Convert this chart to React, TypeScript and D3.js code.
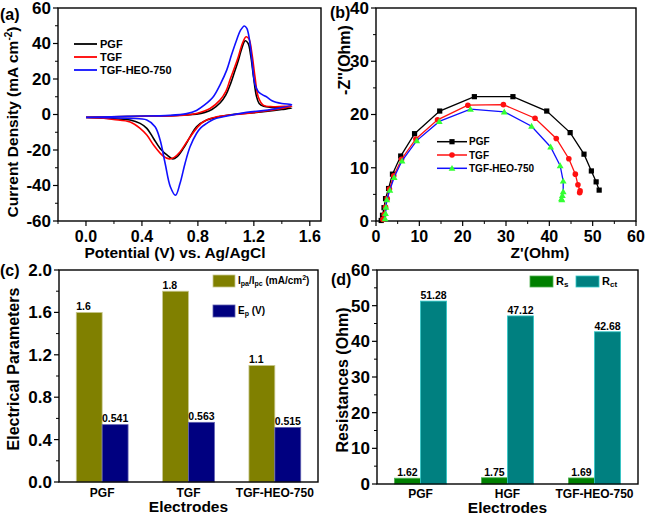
import React from 'react';
import * as d3 from 'd3';

const FONT = '"Liberation Sans", Arial, Helvetica, sans-serif';

// ---------- Panel (a): cyclic voltammetry ----------
const cvPgf: [number, number][] = [
  [0, -1.6], [0.2, -1.3], [0.4, -1.0], [0.6, -0.7], [0.7, -0.3], [0.79, 0.2], [0.85, 1.2], [0.9, 2.8],
  [0.96, 6.6], [1.0, 11], [1.03, 16.6], [1.06, 23.5], [1.09, 30.7], [1.115, 37.5], [1.138, 41.5],
  [1.158, 40.2], [1.178, 33], [1.198, 21], [1.218, 10.5], [1.238, 6.2], [1.27, 4.6], [1.33, 4.0],
  [1.4, 3.7], [1.47, 3.6],
  [1.4, 2.8], [1.3, 1.8], [1.2, 1.0], [1.1, 0.4], [1.0, -0.6], [0.92, -1.8], [0.863, -3.1],
  [0.79, -6.9], [0.744, -12.6], [0.696, -19.1], [0.652, -23.7], [0.62, -25], [0.585, -23.2],
  [0.53, -19.1], [0.483, -13.5], [0.435, -7.8], [0.387, -5.0], [0.316, -3.1], [0.197, -2.4], [0.1, -2.0], [0, -1.6]
];
const cvTgf: [number, number][] = [
  [0, -1.6], [0.3, -1.1], [0.6, -0.8], [0.72, -0.3], [0.79, 0.6], [0.887, 3.4], [0.958, 8.1], [1.0, 13],
  [1.029, 19.4], [1.06, 26], [1.089, 32.6], [1.118, 40], [1.145, 43.8], [1.165, 42.6], [1.186, 34.5],
  [1.208, 21.3], [1.231, 10], [1.267, 5.3], [1.338, 4.4], [1.47, 4.6],
  [1.338, 2.5], [1.148, 0.6], [0.934, -1.3], [0.839, -4.1], [0.78, -8.8], [0.72, -15.5], [0.672, -21.1],
  [0.628, -24.3], [0.595, -25], [0.55, -23.3], [0.483, -17.2], [0.435, -11.6], [0.387, -7.8],
  [0.316, -4.2], [0.197, -2.8], [0.1, -2.0], [0, -1.6]
];
const cvHeo: [number, number][] = [
  [0, -1.6], [0.3, -1.0], [0.6, -0.5], [0.72, 0.5], [0.79, 2.3], [0.85, 5.5], [0.91, 10], [0.96, 17],
  [1.006, 25], [1.04, 33.5], [1.077, 42], [1.105, 47.5], [1.132, 49.9], [1.15, 48.5], [1.168, 42.5],
  [1.186, 30.7], [1.208, 17], [1.232, 12.8], [1.26, 11.2], [1.29, 10.0], [1.33, 7.8], [1.4, 6.2], [1.47, 5.5],
  [1.3, 2.5], [1.148, 1.2], [0.981, -1.3], [0.91, -2.8], [0.863, -5], [0.82, -7.5], [0.79, -10.7],
  [0.744, -18.2], [0.708, -27.6], [0.672, -38.9], [0.64, -45.5], [0.603, -40.7], [0.566, -27.6],
  [0.53, -14.4], [0.494, -6.9], [0.435, -3.1], [0.316, -2.2], [0.15, -1.8], [0, -1.6]
];
const cvTicksX = [0, 0.4, 0.8, 1.2, 1.6];
const cvMinorX = [-0.2, 0.2, 0.6, 1.0, 1.4];
const cvTicksY = [-60, -40, -20, 0, 20, 40, 60];
const cvMinorY = [-50, -30, -10, 10, 30, 50];
const cvSeries = ['PGF', 'TGF', 'TGF-HEO-750'];

// ---------- Panel (b): Nyquist ----------
const eisPgf: [number, number][] = [
  [1.2, 0.1], [1.5, 1.07], [1.85, 2.5], [2.2, 4.2], [2.9, 6.1], [3.8, 8.8], [5.7, 12.2], [8.9, 16.4],
  [14.7, 20.65], [22.7, 23.35], [31.6, 23.35], [39.4, 20.65], [44.8, 16.6], [48.0, 12.55], [49.7, 9.4],
  [50.8, 7.35], [51.5, 5.8]
];
const eisTgf: [number, number][] = [
  [1.6, 0.3], [1.9, 1.2], [2.2, 2.6], [2.6, 4.2], [3.1, 6.0], [4.1, 8.5], [5.9, 11.6], [9.2, 15.4],
  [14.2, 19.0], [21.2, 21.75], [29.4, 21.85], [36.7, 19.3], [41.6, 15.5], [44.5, 11.7], [46.0, 8.8],
  [46.6, 6.8], [47.1, 5.65], [47.0, 5.3]
];
const eisHeo: [number, number][] = [
  [2.1, 0.45], [2.2, 1.4], [2.3, 2.6], [2.5, 4.0], [3.2, 5.8], [4.2, 8.2], [6.0, 11.3], [9.4, 15.1],
  [14.6, 18.7], [21.8, 21.0], [29.6, 20.5], [35.9, 17.8], [40.3, 13.9], [42.5, 10.4], [43.2, 7.5],
  [43.2, 5.5], [43.0, 4.8], [42.8, 4.2], [42.9, 4.0]
];
const eisTicksX = [0, 10, 20, 30, 40, 50, 60];
const eisMinorX = [5, 15, 25, 35, 45, 55];
const eisTicksY = [0, 10, 20, 30, 40];
const eisMinorY = [5, 15, 25, 35];

// ---------- Panel (c): electrical parameters ----------
const electrodesC = ['PGF', 'TGF', 'TGF-HEO-750'];
const ipaIpc = [1.6, 1.8, 1.1];
const epValues = [0.541, 0.563, 0.515];
const ipaLabels = ['1.6', '1.8', '1.1'];
const epLabels = ['0.541', '0.563', '0.515'];
const paramTicks = [0, 0.4, 0.8, 1.2, 1.6, 2.0];
const paramMinor = [0.2, 0.6, 1.0, 1.4, 1.8];

// ---------- Panel (d): resistances ----------
const electrodesD = ['PGF', 'HGF', 'TGF-HEO-750'];
const rsValues = [1.62, 1.75, 1.69];
const rctValues = [51.28, 47.12, 42.68];
const rsLabels = ['1.62', '1.75', '1.69'];
const rctLabels = ['51.28', '47.12', '42.68'];
const resTicks = [0, 10, 20, 30, 40, 50, 60];
const resMinor = [5, 15, 25, 35, 45, 55];

const AX = 1.4;

function Frame({ l, r, t, b }: { l: number; r: number; t: number; b: number }) {
  return <rect x={l} y={t} width={r - l} height={b - t} fill="none" stroke="#000" strokeWidth={AX} />;
}

function YTicks({ scale, x, major, minor, fmt, size }: any) {
  return (
    <g>
      {major.map((v: number) => (
        <g key={'M' + v}>
          <line x1={x - 5} x2={x} y1={scale(v)} y2={scale(v)} stroke="#000" strokeWidth={1.2} />
          <text x={x - 7} y={scale(v)} dy="0.35em" textAnchor="end" fontSize={size} fontWeight="bold" fontFamily={FONT}>{fmt(v)}</text>
        </g>
      ))}
      {minor.map((v: number) => (
        <line key={'m' + v} x1={x - 3} x2={x} y1={scale(v)} y2={scale(v)} stroke="#000" strokeWidth={1} />
      ))}
    </g>
  );
}

function XTicks({ scale, y, major, minor, fmt, size, labelY }: any) {
  return (
    <g>
      {major.map((v: number) => (
        <g key={'M' + v}>
          <line x1={scale(v)} x2={scale(v)} y1={y} y2={y + 5} stroke="#000" strokeWidth={1.2} />
          <text x={scale(v)} y={labelY} textAnchor="middle" fontSize={size} fontWeight="bold" fontFamily={FONT}>{fmt(v)}</text>
        </g>
      ))}
      {minor.map((v: number) => (
        <line key={'m' + v} x1={scale(v)} x2={scale(v)} y1={y} y2={y + 3} stroke="#000" strokeWidth={1} />
      ))}
    </g>
  );
}

function PanelA() {
  const L = 58, R = 321, T = 8, B = 221;
  const x = d3.scaleLinear().domain([-0.2, 1.68]).range([L, R]);
  const y = d3.scaleLinear().domain([-60, 60]).range([B, T]);
  const line = d3.line<[number, number]>().x(d => x(d[0])).y(d => y(d[1])).curve(d3.curveCatmullRom.alpha(0.5));
  const colors = ['#000000', '#ff0000', '#1010ff'];
  const data = [cvPgf, cvTgf, cvHeo];
  return (
    <g>
      <Frame l={L} r={R} t={T} b={B} />
      {data.map((d, i) => (
        <path key={i} d={line(d) || ''} fill="none" stroke={colors[i]} strokeWidth={1.6} strokeLinejoin="round" />
      ))}
      <YTicks scale={y} x={L} major={cvTicksY} minor={cvMinorY} fmt={(v: number) => String(v)} size={17} />
      <XTicks scale={x} y={B} major={cvTicksX} minor={cvMinorX} fmt={(v: number) => v.toFixed(1)} size={16} labelY={241.5} />
      <text x={175} y={258} textAnchor="middle" fontSize={15.5} fontWeight="bold" fontFamily={FONT}>Potential (V) vs. Ag/AgCl</text>
      <text transform="translate(18,122) rotate(-90)" textAnchor="middle" fontSize={15.5} fontWeight="bold" fontFamily={FONT}>
        Current Density (mA cm<tspan dy={-6} fontSize={10}>-2</tspan><tspan dy={6}>)</tspan>
      </text>
      {cvSeries.map((s, i) => (
        <g key={s}>
          <line x1={74} x2={97} y1={44 + i * 13} y2={44 + i * 13} stroke={colors[i]} strokeWidth={1.8} />
          <text x={100} y={44 + i * 13} dy="0.35em" fontSize={11} fontWeight="bold" fontFamily={FONT}>{s}</text>
        </g>
      ))}
      <text x={0} y={20} fontSize={16} fontWeight="bold" fontFamily={FONT}>(a)</text>
    </g>
  );
}

function Marker({ kind, cx, cy }: { kind: string; cx: number; cy: number }) {
  if (kind === 'square') return <rect x={cx - 2.6} y={cy - 2.6} width={5.2} height={5.2} fill="#000" />;
  if (kind === 'circle') return <circle cx={cx} cy={cy} r={2.8} fill="#ff1010" />;
  const s = 3.4;
  return <path d={`M${cx},${cy - s}L${cx + s},${cy + s * 0.75}L${cx - s},${cy + s * 0.75}Z`} fill="#33ff33" />;
}

function PanelB() {
  const L = 376, R = 636, T = 8, B = 221;
  const x = d3.scaleLinear().domain([0, 60]).range([L, R]);
  const y = d3.scaleLinear().domain([0, 40]).range([B, T]);
  const line = d3.line<[number, number]>().x(d => x(d[0])).y(d => y(d[1]));
  const series = [
    { name: 'PGF', data: eisPgf, color: '#000000', marker: 'square' },
    { name: 'TGF', data: eisTgf, color: '#ff1010', marker: 'circle' },
    { name: 'TGF-HEO-750', data: eisHeo, color: '#1010ff', marker: 'tri' },
  ];
  return (
    <g>
      <Frame l={L} r={R} t={T} b={B} />
      {series.map(s => (
        <g key={s.name}>
          <path d={line(s.data) || ''} fill="none" stroke={s.color} strokeWidth={1.3} />
          {s.data.map((p, j) => <Marker key={j} kind={s.marker} cx={x(p[0])} cy={y(p[1])} />)}
        </g>
      ))}
      <YTicks scale={y} x={L} major={eisTicksY} minor={eisMinorY} fmt={(v: number) => String(v)} size={17} />
      <XTicks scale={x} y={B} major={eisTicksX} minor={eisMinorX} fmt={(v: number) => String(v)} size={16} labelY={241.5} />
      <text x={540} y={258} textAnchor="middle" fontSize={15.5} fontWeight="bold" fontFamily={FONT}>Z'(Ohm)</text>
      <text transform="translate(350,60) rotate(-90)" textAnchor="middle" fontSize={16} fontWeight="bold" fontFamily={FONT}>-Z''(Ohm)</text>
      {series.map((s, i) => (
        <g key={'lg' + s.name}>
          <line x1={437} x2={467} y1={141.7 + i * 13.3} y2={141.7 + i * 13.3} stroke={s.color} strokeWidth={1.5} />
          <Marker kind={s.marker} cx={452} cy={141.7 + i * 13.3} />
          <text x={469} y={141.7 + i * 13.3} dy="0.35em" fontSize={10} fontWeight="bold" fontFamily={FONT}>{s.name}</text>
        </g>
      ))}
      <text x={330} y={18} fontSize={16} fontWeight="bold" fontFamily={FONT}>(b)</text>
    </g>
  );
}

function PanelC() {
  const L = 59, R = 318, T = 270, B = 482;
  const x = d3.scaleBand<string>().domain(electrodesC).range([L, R]);
  const y = d3.scaleLinear().domain([0, 2]).range([B, T]);
  const bw = x.bandwidth() * 0.3;
  return (
    <g>
      {electrodesC.map((c, i) => {
        const cx = (x(c) || 0) + x.bandwidth() / 2;
        return (
          <g key={c}>
            <rect x={cx - bw} y={y(ipaIpc[i])} width={bw} height={B - y(ipaIpc[i])} fill="#808000" stroke="#c8c890" strokeWidth={0.8} />
            <rect x={cx} y={y(epValues[i])} width={bw} height={B - y(epValues[i])} fill="#000080" stroke="#6060b0" strokeWidth={0.8} />
            <text x={cx - bw} y={y(ipaIpc[i]) - 2.5} fontSize={10.5} fontWeight="bold" fontFamily={FONT}>{ipaLabels[i]}</text>
            <text x={cx + bw / 2} y={y(epValues[i]) - 2.5} textAnchor="middle" fontSize={10.5} fontWeight="bold" fontFamily={FONT}>{epLabels[i]}</text>
            <text x={cx} y={496.5} textAnchor="middle" fontSize={12} fontWeight="bold" fontFamily={FONT}>{c}</text>
          </g>
        );
      })}
      <Frame l={L} r={R} t={T} b={B} />
      <YTicks scale={y} x={L} major={paramTicks} minor={paramMinor} fmt={(v: number) => v.toFixed(1)} size={17} />
      <text x={(L + R) / 2} y={512} textAnchor="middle" fontSize={15.5} fontWeight="bold" fontFamily={FONT}>Electrodes</text>
      <text transform="translate(19,369) rotate(-90)" textAnchor="middle" fontSize={16} fontWeight="bold" fontFamily={FONT}>Electrical Parameters</text>
      <rect x={213} y={275} width={22} height={12} fill="#808000" stroke="#c8c890" strokeWidth={0.8} />
      <text x={238} y={284} fontSize={10} fontWeight="bold" fontFamily={FONT}>
        I<tspan fontSize={7} dy={2}>pa</tspan><tspan dy={-2}>/I</tspan><tspan fontSize={7} dy={2}>pc</tspan><tspan dy={-2}> (mA/cm</tspan><tspan fontSize={7} dy={-4}>2</tspan><tspan dy={4}>)</tspan>
      </text>
      <rect x={213} y={305} width={22} height={12} fill="#000080" stroke="#6060b0" strokeWidth={0.8} />
      <text x={238} y={314} fontSize={10} fontWeight="bold" fontFamily={FONT}>
        E<tspan fontSize={7} dy={2}>p</tspan><tspan dy={-2}> (V)</tspan>
      </text>
      <text x={0} y={276} fontSize={16} fontWeight="bold" fontFamily={FONT}>(c)</text>
    </g>
  );
}

function PanelD() {
  const L = 377, R = 638, T = 270, B = 484;
  const x = d3.scaleBand<string>().domain(electrodesD).range([L, R]);
  const y = d3.scaleLinear().domain([0, 60]).range([B, T]);
  const bw = x.bandwidth() * 0.3;
  return (
    <g>
      {electrodesD.map((c, i) => {
        const cx = (x(c) || 0) + x.bandwidth() / 2;
        return (
          <g key={c}>
            <rect x={cx - bw} y={y(rsValues[i])} width={bw} height={B - y(rsValues[i])} fill="#008000" stroke="#50b050" strokeWidth={0.8} />
            <rect x={cx} y={y(rctValues[i])} width={bw} height={B - y(rctValues[i])} fill="#008080" stroke="#30c8c8" strokeWidth={0.8} />
            <text x={cx - bw / 2} y={y(rsValues[i]) - 2} textAnchor="middle" fontSize={10.5} fontWeight="bold" fontFamily={FONT}>{rsLabels[i]}</text>
            <text x={cx + bw / 2} y={y(rctValues[i]) - 2} textAnchor="middle" fontSize={10.5} fontWeight="bold" fontFamily={FONT}>{rctLabels[i]}</text>
            <text x={cx} y={497.5} textAnchor="middle" fontSize={12} fontWeight="bold" fontFamily={FONT}>{c}</text>
          </g>
        );
      })}
      <Frame l={L} r={R} t={T} b={B} />
      <YTicks scale={y} x={L} major={resTicks} minor={resMinor} fmt={(v: number) => String(v)} size={17} />
      <text x={(L + R) / 2} y={513} textAnchor="middle" fontSize={15.5} fontWeight="bold" fontFamily={FONT}>Electrodes</text>
      <text transform="translate(348,380) rotate(-90)" textAnchor="middle" fontSize={16} fontWeight="bold" fontFamily={FONT}>Resistances (Ohm)</text>
      <rect x={530} y={276} width={23} height={11} fill="#008000" stroke="#50b050" strokeWidth={0.8} />
      <text x={556} y={285} fontSize={11} fontWeight="bold" fontFamily={FONT}>R<tspan fontSize={8} dy={2}>s</tspan></text>
      <rect x={576} y={276} width={23} height={11} fill="#008080" stroke="#30c8c8" strokeWidth={0.8} />
      <text x={602} y={285} fontSize={11} fontWeight="bold" fontFamily={FONT}>R<tspan fontSize={8} dy={2}>ct</tspan></text>
      <text x={331} y={285} fontSize={16} fontWeight="bold" fontFamily={FONT}>(d)</text>
    </g>
  );
}

export default function App() {
  return (
    <svg width={646} height={521} style={{ position: 'absolute', left: 0, top: 0, background: '#fff' }}>
      <rect x={0} y={0} width={646} height={521} fill="#fff" />
      <PanelA />
      <PanelB />
      <PanelC />
      <PanelD />
    </svg>
  );
}
